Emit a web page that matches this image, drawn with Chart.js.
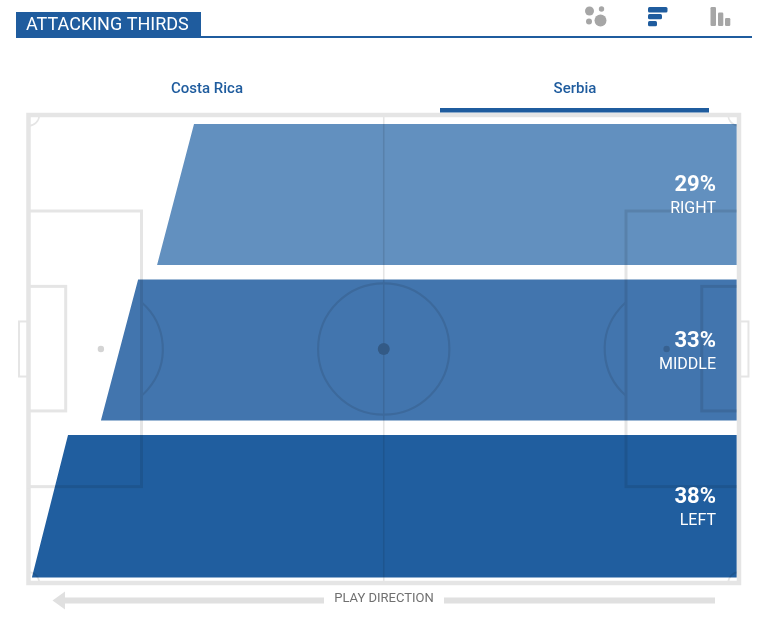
<!DOCTYPE html>
<html>
<head>
<meta charset="utf-8">
<style>html,body{margin:0;padding:0;background:#fff}canvas{display:block}</style>
<script src="https://cdn.jsdelivr.net/npm/chart.js@4"></script>
</head>
<body>
<canvas id="c" width="767" height="622"></canvas>
<script>
const chartTitle = 'ATTACKING THIRDS';
const teams = ['Costa Rica', 'Serbia'];
const directionLabel = 'PLAY DIRECTION';
const categories = ['RIGHT', 'MIDDLE', 'LEFT'];
const shares = [29, 33, 38];
const barColors = ['#6290bf', '#4275ae', '#205e9f'];
// lane outlines, in metres on a 105 x 68 pitch
const reachTop = [24.46, 16.2, 5.84];
const reachBottom = [19.0, 10.7, 0.5];
const laneEnd = [104.65, 104.65, 104.65];
const laneTop = [1.3, 23.9, 46.5];
const laneBottom = [21.8, 44.4, 67.2];

const datasets = categories.map((name, i) => ({
  label: name,
  data: [
    {x: reachTop[i], y: laneTop[i]},
    {x: laneEnd[i], y: laneTop[i]},
    {x: laneEnd[i], y: laneBottom[i]},
    {x: reachBottom[i], y: laneBottom[i]},
    {x: reachTop[i], y: laneTop[i]}
  ],
  showLine: true,
  tension: 0,
  borderWidth: 0,
  pointRadius: 0,
  backgroundColor: barColors[i],
  fill: 'shape',
  clip: false
}));

const LINE = '#e5e5e5';
const BLUE = '#1f5c9e';
const GREY = '#a6a6a6';

const page = {
  id: 'page',
  beforeDraw(chart) {
    const c = chart.ctx;
    c.save();
    c.fillStyle = '#fff';
    c.fillRect(0, 0, chart.width, chart.height);
    c.restore();
  },
  beforeDatasetsDraw(chart) {
    const c = chart.ctx, X = chart.scales.x, Y = chart.scales.y;
    const px = m => X.getPixelForValue(m), py = m => Y.getPixelForValue(m);
    const mpx = px(1) - px(0);
    c.save();
    c.strokeStyle = LINE;
    const box = (x0, y0, x1, y1, w) => {
      c.lineWidth = w;
      c.strokeRect(px(x0), py(y0), px(x1) - px(x0), py(y1) - py(y0));
    };
    const line = (x0, y0, x1, y1, w) => {
      c.lineWidth = w;
      c.beginPath(); c.moveTo(px(x0), py(y0)); c.lineTo(px(x1), py(y1)); c.stroke();
    };
    const arc = (x, y, r, a0, a1, w) => {
      c.lineWidth = w;
      c.beginPath(); c.arc(px(x), py(y), r * mpx, a0, a1); c.stroke();
    };
    const dot = (x, y, r, col) => {
      c.fillStyle = col;
      c.beginPath(); c.arc(px(x), py(y), r, 0, Math.PI * 2); c.fill();
    };
    box(0, 0, 105, 68, 4.5);
    line(52.5, 0, 52.5, 68, 1.6);
    // boxes and goals
    box(0, 13.95, 16.7, 54, 3);
    box(105, 13.95, 88.3, 54, 3);
    box(0, 24.9, 5.5, 43, 3);
    box(105, 24.9, 99.5, 43, 3);
    box(-1.4, 30, 0, 38, 2);
    box(105, 30, 106.4, 38, 2);
    // circles
    const ang = Math.acos(6 / 9.15);
    arc(52.5, 34, 9.7, 0, Math.PI * 2, 2.2);
    arc(10.7, 34, 9.15, -ang, ang, 2.2);
    arc(94.3, 34, 9.15, Math.PI - ang, Math.PI + ang, 2.2);
    arc(0, 0, 1.6, 0, Math.PI / 2, 1.6);
    arc(105, 0, 1.6, Math.PI / 2, Math.PI, 1.6);
    arc(0, 68, 1.6, -Math.PI / 2, 0, 1.6);
    arc(105, 68, 1.6, Math.PI, Math.PI * 1.5, 1.6);
    dot(10.7, 34, 3.2, '#d4d4d4');
    dot(94.3, 34, 3.2, '#d4d4d4');
    dot(52.5, 34, 6, '#c4c4c4');
    c.restore();
    c.save();
    c.globalCompositeOperation = 'multiply';
  },
  afterDatasetsDraw(chart) {
    const c = chart.ctx, X = chart.scales.x, Y = chart.scales.y;
    c.restore();
    c.save();
    // lane labels
    c.fillStyle = '#fff';
    c.textAlign = 'right';
    c.textBaseline = 'middle';
    categories.forEach((name, i) => {
      const mid = (Y.getPixelForValue(laneTop[i]) + Y.getPixelForValue(laneBottom[i])) / 2;
      c.font = '700 22px Roboto';
      c.fillText(shares[i] + '%', 716, mid - 8.5);
      c.font = '400 16px Roboto';
      c.fillText(name, 716, mid + 14.5);
    });
    // header
    c.fillStyle = BLUE;
    c.fillRect(16, 12, 185, 26);
    c.fillRect(16, 36, 736, 2);
    c.fillStyle = '#fff';
    c.textAlign = 'left';
    c.font = '400 18px Roboto';
    c.fillText(chartTitle, 26, 25.5);
    // tabs
    c.fillStyle = BLUE;
    c.textAlign = 'center';
    c.font = '500 15px Roboto';
    c.fillText(teams[0], 207, 89);
    c.fillText(teams[1], 575, 89);
    c.fillRect(440, 108, 269, 4.5);
    // direction
    c.fillStyle = '#e0e0e0';
    c.fillRect(64, 597.5, 260, 6);
    c.fillRect(444, 597.5, 271, 6);
    c.beginPath(); c.moveTo(52.5, 600.5); c.lineTo(65, 591.5); c.lineTo(65, 609.5); c.closePath(); c.fill();
    c.fillStyle = '#707070';
    c.font = '400 13px Roboto';
    c.fillText(directionLabel, 384, 599);
    // view icons
    const round = (x, y, w, h, r, col) => {
      c.fillStyle = col; c.beginPath(); c.roundRect(x, y, w, h, r); c.fill();
    };
    const disc = (x, y, r) => { c.fillStyle = GREY; c.beginPath(); c.arc(x, y, r, 0, Math.PI * 2); c.fill(); };
    disc(589.5, 11, 4.5); disc(601.5, 9, 2.7); disc(589, 21.5, 3); disc(600.5, 20.5, 6);
    round(648, 7, 19.5, 5.5, 1.5, BLUE);
    round(648, 14, 14, 5.2, 1.5, BLUE);
    round(648, 21, 9, 5.2, 1.5, BLUE);
    round(710.5, 7, 5.5, 19, 1.2, GREY);
    round(718, 12.5, 5.3, 13.5, 1.2, GREY);
    round(725, 18, 5.3, 8, 1.2, GREY);
    c.restore();
  }
};

new Chart(document.getElementById('c'), {
  type: 'scatter',
  data: {datasets},
  options: {
    responsive: false,
    animation: false,
    layout: {padding: {left: 28.5, right: 28, top: 115, bottom: 39}},
    plugins: {legend: {display: false}, tooltip: {enabled: false}, title: {display: false}},
    scales: {
      x: {type: 'linear', min: 0, max: 105, display: false},
      y: {type: 'linear', min: 0, max: 68, reverse: true, display: false}
    }
  },
  plugins: [page]
});
</script>
</body>
</html>
